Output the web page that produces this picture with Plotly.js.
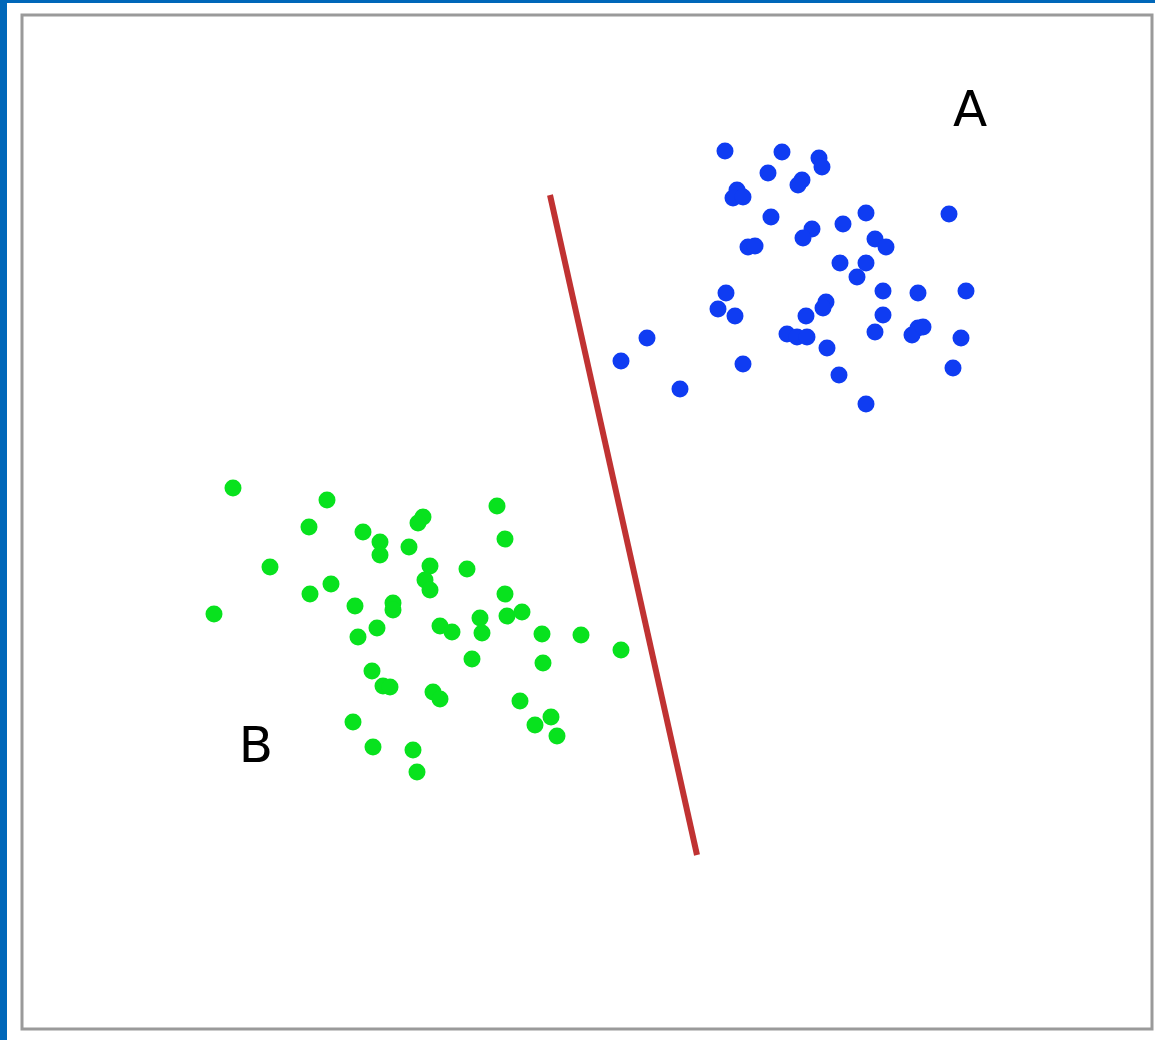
<!DOCTYPE html>
<html>
<head>
<meta charset="utf-8">
<script src="https://cdn.plot.ly/plotly-3.0.1.min.js"></script>
<style>
  html, body { margin: 0; padding: 0; background: #fff; }
  #chart { width: 1155px; height: 1040px; }
</style>
</head>
<body>
<div id="chart"></div>
<script>
// --- DATA (pixel-like units, y grows downward) ---
const classA_x = [725, 782, 819, 822, 768, 802, 798, 737, 740, 733, 743, 771, 866, 949, 843,
                  812, 803, 875, 886, 748, 755, 840, 866, 857, 883, 918, 966, 726, 718, 735,
                  826, 823, 806, 883, 918, 912, 923, 961, 875, 787, 797, 807, 647, 621, 743,
                  827, 839, 953, 680, 866];
const classA_y = [151, 152, 158, 167, 173, 180, 185, 190, 195, 198, 197, 217, 213, 214, 224,
                  229, 238, 239, 247, 247, 246, 263, 263, 277, 291, 293, 291, 293, 309, 316,
                  302, 308, 316, 315, 328, 335, 327, 338, 332, 334, 337, 337, 338, 361, 364,
                  348, 375, 368, 389, 404];

const classB_x = [233, 327, 497, 423, 418, 309, 363, 380, 380, 409, 505, 270, 430, 425, 430,
                  467, 331, 310, 505, 214, 355, 393, 393, 507, 522, 440, 452, 480, 482, 377,
                  358, 542, 581, 621, 472, 543, 372, 383, 390, 433, 440, 520, 353, 551, 535,
                  557, 373, 413, 417];
const classB_y = [488, 500, 506, 517, 523, 527, 532, 542, 555, 547, 539, 567, 566, 580, 590,
                  569, 584, 594, 594, 614, 606, 603, 610, 616, 612, 626, 632, 618, 633, 628,
                  637, 634, 635, 650, 659, 663, 671, 686, 687, 692, 699, 701, 722, 717, 725,
                  736, 747, 750, 772];

// separating line end points
const boundary_x = [550, 697];
const boundary_y = [195, 855];

// class labels
const labels = ['A', 'B'];
const label_x = [970, 256];
const label_y = [113, 749];

// --- TRACES ---
const traces = [
    {
        x: boundary_x, y: boundary_y,
        mode: 'lines', type: 'scatter',
        line: { color: '#c03232', width: 6 },
        hoverinfo: 'skip'
    },
    {
        x: classA_x, y: classA_y,
        mode: 'markers', type: 'scatter', name: 'A',
        marker: { color: '#0f3cf2', size: 17 }
    },
    {
        x: classB_x, y: classB_y,
        mode: 'markers', type: 'scatter', name: 'B',
        marker: { color: '#08e21e', size: 17 }
    },
    {
        x: label_x, y: label_y, text: labels,
        mode: 'text', type: 'scatter',
        textfont: { family: 'DejaVu Sans, sans-serif', size: 50, color: '#000' },
        hoverinfo: 'skip'
    }
];

const layout = {
    width: 1155,
    height: 1040,
    margin: { l: 0, r: 0, t: 0, b: 0 },
    paper_bgcolor: '#ffffff',
    plot_bgcolor: '#ffffff',
    showlegend: false,
    xaxis: { range: [0, 1155], visible: false, fixedrange: true },
    yaxis: { range: [1040, 0], visible: false, fixedrange: true },
    shapes: [
        // blue page border (left and top)
        { type: 'rect', xref: 'paper', yref: 'paper', x0: 0, x1: 7 / 1155, y0: 0, y1: 1,
          fillcolor: '#0067b9', line: { width: 0 }, layer: 'below' },
        { type: 'rect', xref: 'paper', yref: 'paper', x0: 0, x1: 1, y0: 1 - 3 / 1040, y1: 1,
          fillcolor: '#0067b9', line: { width: 0 }, layer: 'below' },
        // grey frame
        { type: 'rect', xref: 'paper', yref: 'paper',
          x0: 22 / 1155, x1: 1152 / 1155, y0: 1 - 1029 / 1040, y1: 1 - 15 / 1040,
          fillcolor: 'rgba(0,0,0,0)', line: { color: '#9a9a9a', width: 3 }, layer: 'below' }
    ]
};

Plotly.newPlot('chart', traces, layout, { staticPlot: true, displayModeBar: false });
</script>
</body>
</html>
